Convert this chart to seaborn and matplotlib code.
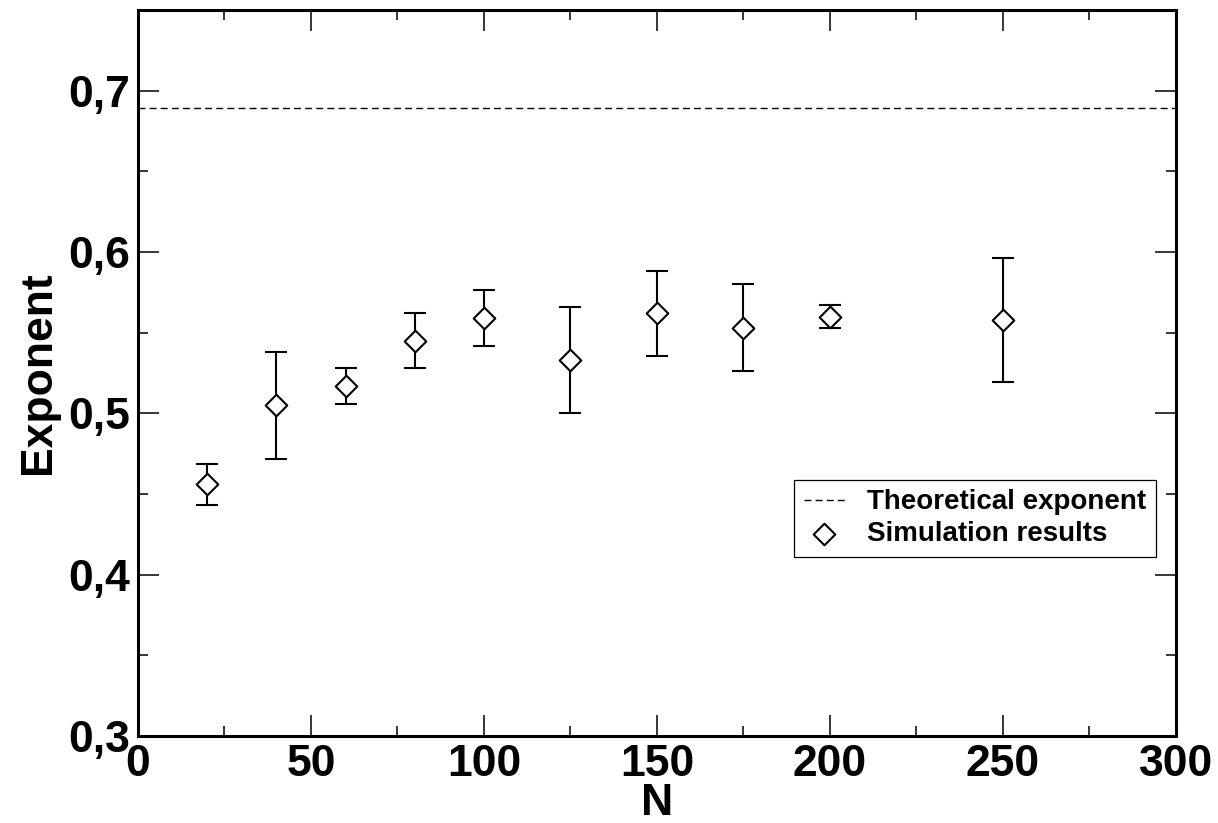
import numpy as np
import pandas as pd
import matplotlib
matplotlib.use('Agg')
import matplotlib.pyplot as plt
import matplotlib.ticker as mticker
import seaborn as sns

# simulation results
N = [20, 40, 60, 80, 100, 125, 150, 175, 200, 250]
exponent = [0.456, 0.505, 0.517, 0.545, 0.559, 0.533, 0.562, 0.553, 0.560, 0.558]
error = [0.0127, 0.0331, 0.0113, 0.0171, 0.0174, 0.0328, 0.0263, 0.0270, 0.0070, 0.0385]
theory = 0.689

df = pd.DataFrame({'N': N, 'exponent': exponent, 'error': error})

sns.set_theme(style='ticks')
plt.rcParams['font.family'] = ['Liberation Sans', 'DejaVu Sans']
plt.rcParams['font.weight'] = 'bold'
plt.rcParams['text.color'] = 'black'
plt.rcParams['axes.labelcolor'] = 'black'

fig = plt.figure(figsize=(12.18, 8.23), dpi=100)
ax = fig.add_axes([0.1133, 0.1057, 0.8522, 0.8821])

# theoretical value
ax.axhline(theory, color='black', lw=1.0, ls=(0, (5, 3)), label='Theoretical exponent', zorder=2)

# error bars behind the markers
ax.errorbar(df['N'], df['exponent'], yerr=df['error'], fmt='none', ecolor='black',
            elinewidth=1.5, capsize=7.8, capthick=1.5, zorder=2)
sns.scatterplot(data=df, x='N', y='exponent', marker='D', s=121, facecolor='white',
                edgecolor='black', linewidth=1.5, label='Simulation results', zorder=3, ax=ax)

ax.set_xlim(0, 300)
ax.set_ylim(0.3, 0.75)
ax.xaxis.set_major_locator(mticker.MultipleLocator(50))
ax.xaxis.set_minor_locator(mticker.MultipleLocator(25))
ax.yaxis.set_major_locator(mticker.MultipleLocator(0.1))
ax.yaxis.set_minor_locator(mticker.MultipleLocator(0.05))
ax.yaxis.set_major_formatter(mticker.FuncFormatter(lambda v, p: f'{v:.1f}'.replace('.', ',')))

ax.tick_params(which='both', direction='in', top=True, right=True, colors='black')
ax.tick_params(which='major', length=15, width=1.1, labelsize=32, pad=6)
ax.tick_params(which='minor', length=7.5, width=1.1)
for lab in ax.get_xticklabels() + ax.get_yticklabels():
    lab.set_fontweight('bold')
for s in ax.spines.values():
    s.set_linewidth(2.2)
    s.set_color('black')

ax.set_xlabel('N', fontsize=32, fontweight='bold', color='black', labelpad=-2)
ax.set_ylabel('Exponent', fontsize=32, fontweight='bold', color='black', labelpad=6)

leg = ax.legend(loc='lower right', bbox_to_anchor=(0.981, 0.247), borderaxespad=0,
                prop={'weight': 'bold', 'size': 20}, fancybox=False, framealpha=1,
                edgecolor='black', handlelength=1.5, handletextpad=0.8,
                borderpad=0.35, labelspacing=0.2)
leg.get_frame().set_linewidth(0.9)
for t in leg.get_texts():
    t.set_color('black')

fig.savefig('out.png', dpi=100)
